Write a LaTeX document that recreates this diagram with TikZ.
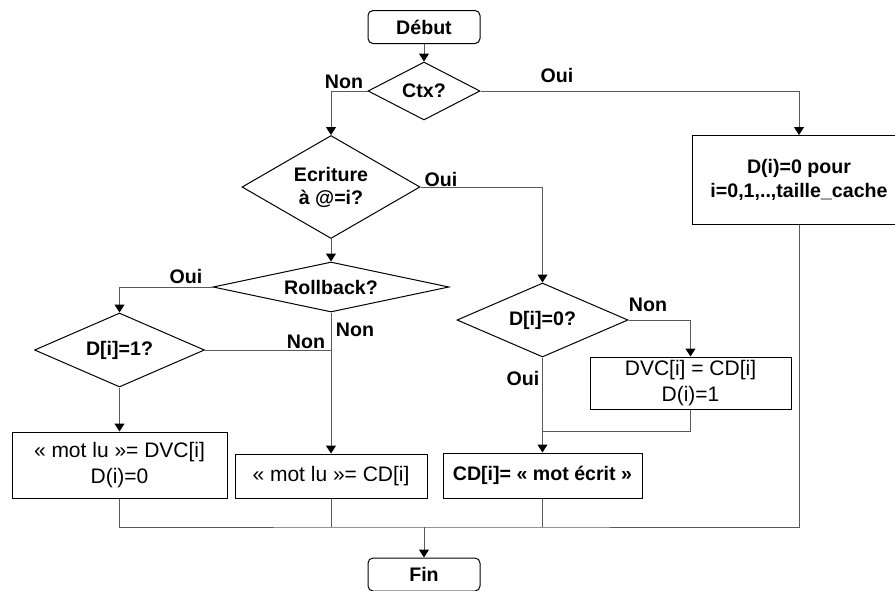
\documentclass[tikz,border=0pt]{standalone}
\usepackage{fontspec}
\setmainfont{Liberation Sans}
\usetikzlibrary{arrows.meta,shapes.geometric,positioning,calc}
\tikzset{every picture/.style={line width=0.5pt}}

\begin{document}
\begin{tikzpicture}[x=0.5pt,y=-0.5pt,
    terminal/.style={draw,rounded corners=2.5pt,minimum width=56pt,minimum height=16.5pt,inner sep=0pt,font=\bfseries\fontsize{9.8}{11.5}\selectfont},
    test/.style={draw,diamond,inner sep=0pt,align=center,font=\bfseries\fontsize{9.8}{11.5}\selectfont},
    action/.style={draw,rectangle,inner sep=0pt,align=center,font=\fontsize{10.5}{13}\selectfont},
    actionbf/.style={action,font=\bfseries\fontsize{9.8}{12}\selectfont},
    answer/.style={inner sep=0pt,font=\bfseries\fontsize{9.8}{11.5}\selectfont},
    flow/.style={draw=black!65,-{Triangle[length=4pt,width=5pt,color=black]}},
    link/.style={draw=black!65}]
    \clip (0,0) rectangle (895,590);

    % === Début, contexte ===
    \node[terminal] (debut) at (424,27) {Début};
    \node[test,minimum width=56pt,minimum height=29pt,shape aspect=1.93] (ctx) at (424,91) {Ctx?};
    \node[actionbf,minimum width=107pt,minimum height=44.5pt] (raz) at (799,180) {D(i)=0 pour\\i=0,1,..,taille\_cache};

    % === Lecture / écriture ===
    \node[test,minimum width=89pt,minimum height=51.5pt,shape aspect=1.73] (ecr) at (331,187) {Ecriture\\à @=i?};
    \node[test,minimum width=118pt,minimum height=25pt,shape aspect=4.7] (roll) at (331,287) {Rollback?};
    \node[test,minimum width=85pt,minimum height=37pt,shape aspect=2.3] (dun) at (119.5,350) {D[i]=1?};
    \node[test,minimum width=85.5pt,minimum height=37pt,shape aspect=2.3] (dzero) at (542.5,320) {D[i]=0?};

    % boîtes d'action
    \node[action,minimum width=100.5pt,minimum height=26pt] (copie) at (690.5,383) {DVC[i] = CD[i]\\D(i)=1};
    \node[action,minimum width=107.5pt,minimum height=33pt] (lectdvc) at (119.5,465) {« mot lu »= DVC[i]\\D(i)=0};
    \node[action,minimum width=96pt,minimum height=22pt] (lectcd) at (331,476) {« mot lu »= CD[i]};
    \node[actionbf,minimum width=99.5pt,minimum height=22.5pt] (ecrcd) at (542.5,475.5) {CD[i]= « mot écrit »};

    \node[terminal] (fin) at (424,574.5) {Fin};

    % réponses
    \node[answer] (non1) at (344,82) {Non};
    \node[answer] (oui1) at (557,75) {Oui};
    \node[answer] (oui2) at (441,179) {Oui};
    \node[answer] (oui3) at (186,276) {Oui};
    \node[answer] (non2) at (355,330) {Non};
    \node[answer] (non3) at (306,342) {Non};
    \node[answer] (non4) at (648,305) {Non};
    \node[answer] (oui4) at (523,378) {Oui};

    \coordinate (jonction) at (542.5,431);
    \coordinate (fusion) at (424,527);

    % liaisons
    \draw[flow] (debut) -- (ctx);
    \draw[flow] (ctx.west) -| (ecr.north);
    \draw[flow] (ctx.east) -| (raz.north);
    \draw[flow] (ecr) -- (roll);
    \draw[flow] (ecr.east) -| (dzero.north);
    \draw[flow] (roll.west) -| (dun.north);
    \draw[flow] (roll) -- (lectcd);
    \draw[link] (dun.east) -- (dun.east -| roll.south);
    \draw[flow] (dun) -- (lectdvc);
    \draw[flow] (dzero.east) -| (copie.north);
    \draw[flow] (dzero) -- (ecrcd);
    \draw[link] (copie.south) |- (jonction);

    % vers la fin
    \draw[link] (lectdvc.south) |- (fusion) -| (raz.south);
    \draw[link] (lectcd.south) -- (lectcd.south |- fusion);
    \draw[link] (ecrcd.south) -- (ecrcd.south |- fusion);
    \draw[flow] (fusion) -- (fin);
\end{tikzpicture}
\end{document}
